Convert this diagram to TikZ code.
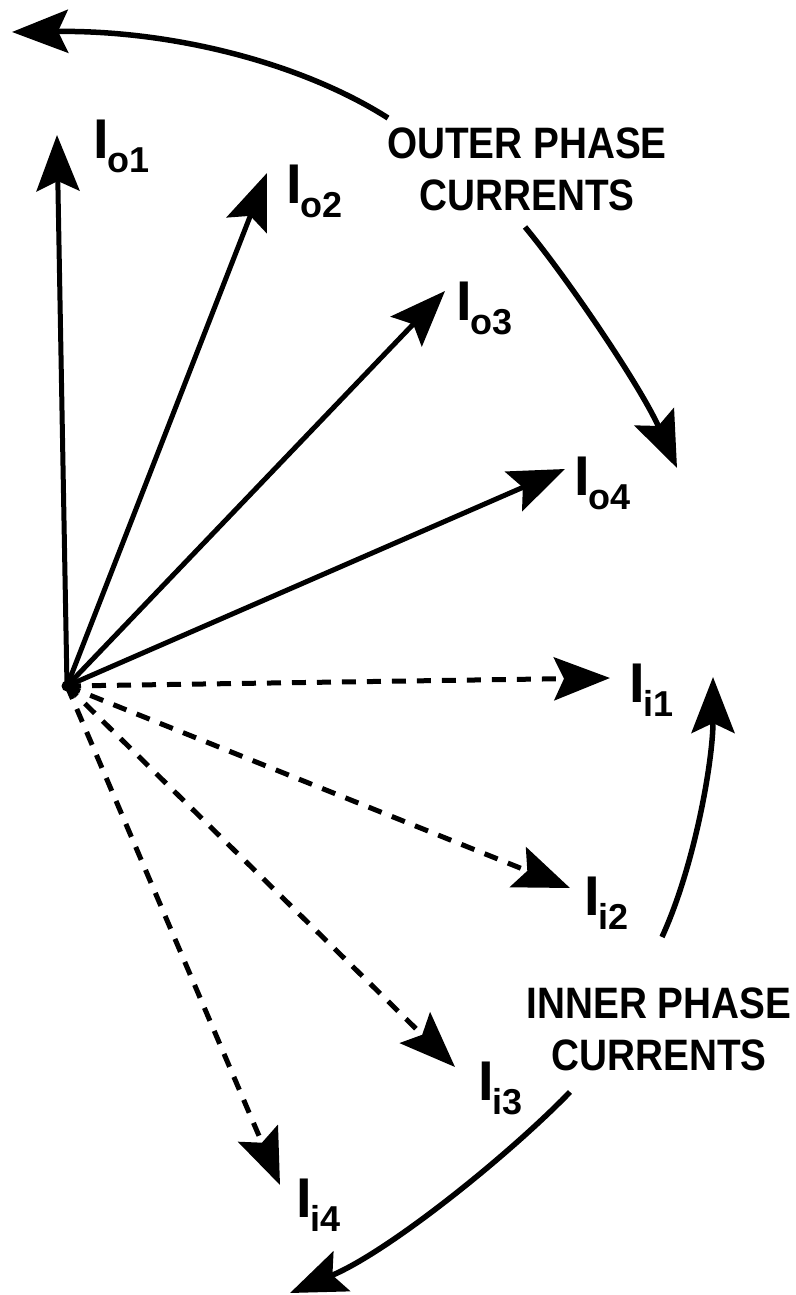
\documentclass[tikz,border=0pt]{standalone}
\usepackage{fontspec}
\setmainfont{Liberation Sans}
\newfontfamily\phasefont[FakeStretch=0.88]{Liberation Sans}
\usetikzlibrary{arrows.meta}
\newcommand\curlab[2]{{\fontsize{56}{56}\selectfont\bfseries I}\kern-1pt\raisebox{-14pt}{\fontsize{36}{36}\selectfont\bfseries #1#2}}
\begin{document}
\begin{tikzpicture}[x=1pt,y=-1pt,
  tipS/.style={-{Stealth[length=56pt,width=43pt,inset=10pt]}},
  vec/.style={tipS, line width=5pt},
  dvec/.style={tipS, line width=5pt, dash pattern=on 14pt off 11pt},
  sweep/.style={tipS, line width=5.5pt},
  lbl/.style={anchor=base west, inner sep=0pt},
  phase/.style={align=center, inner sep=0pt, font=\phasefont\bfseries\fontsize{44}{52}\selectfont}]
\useasboundingbox (0,0) rectangle (795,1295);

% origin and vector tips
\coordinate (O) at (67,686);
\coordinate (to1) at (57,135);
\coordinate (to2) at (267,173);
\coordinate (to3) at (445,291);
\coordinate (to4) at (565,469);
\coordinate (ti1) at (610,678);
\coordinate (ti2) at (570,888);
\coordinate (ti3) at (455,1067);
\coordinate (ti4) at (280,1185);

% outer vectors
\draw[vec] (O) -- (to1);
\draw[vec] (O) -- (to2);
\draw[vec] (O) -- (to3);
\draw[vec] (O) -- (to4);
% inner vectors
\draw[dvec] (O) -- (ti1);
\draw[dvec] (O) -- (ti2);
\draw[dvec] (O) -- (ti3);
\draw[dvec] (O) -- (ti4);
\fill (O) circle (5.5pt);

% labels
\node[lbl] (lo1) at (93,158) {\curlab{o}{1}};
\node[lbl] (lo2) at (286,203) {\curlab{o}{2}};
\node[lbl] (lo3) at (456,320) {\curlab{o}{3}};
\node[lbl] (lo4) at (574,495) {\curlab{o}{4}};
\node[lbl] (li1) at (629,702) {\curlab{i}{1}};
\node[lbl] (li2) at (584,915) {\curlab{i}{2}};
\node[lbl] (li3) at (478,1100) {\curlab{i}{3}};
\node[lbl] (li4) at (296,1217) {\curlab{i}{4}};

% phase texts
\node[phase] (outer) at (527,169) {OUTER PHASE\\CURRENTS};
\node[phase] (inner) at (659,1029) {INNER PHASE\\CURRENTS};

% sweep arrows
\coordinate (a1s) at (388,118);
\coordinate (a1e) at (12,32);
\coordinate (a2s) at (525,227);
\coordinate (a2e) at (677,468);
\coordinate (a3s) at (662,937);
\coordinate (a3e) at (713,677);
\coordinate (a4s) at (570,1092);
\coordinate (a4e) at (290,1293);
\draw[sweep] (a1s) .. controls (300,62) and (170,30) .. (a1e);
\draw[sweep] (a2s) .. controls (565,275) and (640,385) .. (a2e);
\draw[sweep] (a3s) .. controls (695,865) and (713,760) .. (a3e);
\draw[sweep] (a4s) .. controls (510,1154) and (390,1251) .. (a4e);
\end{tikzpicture}
\end{document}
